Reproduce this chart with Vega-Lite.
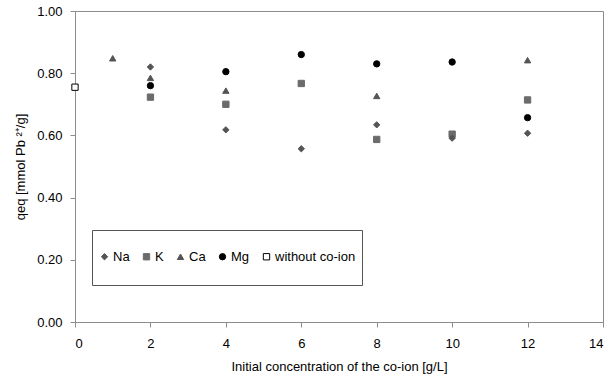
{
  "$schema": "https://vega.github.io/schema/vega-lite/v6.json",
  "width": 528,
  "height": 311,
  "autosize": "none",
  "padding": {"left": 75, "top": 11, "right": 6, "bottom": 61},
  "config": {
    "font": "Liberation Sans",
    "view": {"stroke": "#8c8c8c", "strokeWidth": 1},
    "axis": {
      "labelFont": "Liberation Sans",
      "titleFont": "Liberation Sans",
      "labelFontSize": 13,
      "titleFontSize": 13,
      "titleFontWeight": "normal",
      "labelColor": "#000",
      "titleColor": "#000",
      "domainColor": "#8c8c8c",
      "tickColor": "#8c8c8c",
      "grid": false,
      "tickSize": 5
    }
  },
  "data": {
    "values": [
      {"c": 0, "q": 0.755, "s": "without co-ion"},
      {"c": 1, "q": 0.848, "s": "Ca"},
      {"c": 2, "q": 0.820, "s": "Na"},
      {"c": 2, "q": 0.785, "s": "Ca"},
      {"c": 2, "q": 0.760, "s": "Mg"},
      {"c": 2, "q": 0.723, "s": "K"},
      {"c": 4, "q": 0.805, "s": "Mg"},
      {"c": 4, "q": 0.744, "s": "Ca"},
      {"c": 4, "q": 0.700, "s": "K"},
      {"c": 4, "q": 0.618, "s": "Na"},
      {"c": 6, "q": 0.860, "s": "Mg"},
      {"c": 6, "q": 0.767, "s": "K"},
      {"c": 6, "q": 0.557, "s": "Na"},
      {"c": 8, "q": 0.830, "s": "Mg"},
      {"c": 8, "q": 0.727, "s": "Ca"},
      {"c": 8, "q": 0.634, "s": "Na"},
      {"c": 8, "q": 0.587, "s": "K"},
      {"c": 10, "q": 0.836, "s": "Mg"},
      {"c": 10, "q": 0.604, "s": "K"},
      {"c": 10, "q": 0.591, "s": "Na"},
      {"c": 12, "q": 0.842, "s": "Ca"},
      {"c": 12, "q": 0.714, "s": "K"},
      {"c": 12, "q": 0.657, "s": "Mg"},
      {"c": 12, "q": 0.607, "s": "Na"}
    ]
  },
  "mark": {"type": "point", "filled": true, "size": 40, "strokeWidth": 1, "opacity": 1},
  "encoding": {
    "x": {
      "field": "c",
      "type": "quantitative",
      "scale": {"domain": [0, 14], "nice": false},
      "axis": {"values": [0, 2, 4, 6, 8, 10, 12, 14], "title": "Initial concentration of the co-ion [g/L]", "titlePadding": 10, "labelPadding": 10}
    },
    "y": {
      "field": "q",
      "type": "quantitative",
      "scale": {"domain": [0, 1], "nice": false},
      "axis": {"values": [0, 0.2, 0.4, 0.6, 0.8, 1.0], "format": ".2f", "title": "qeq [mmol Pb ²⁺/g]", "titlePadding": 9, "labelPadding": 8}
    },
    "shape": {
      "field": "s",
      "type": "nominal",
      "scale": {"domain": ["Na", "K", "Ca", "Mg", "without co-ion"], "range": ["diamond", "square", "triangle-up", "circle", "square"]},
      "legend": {"title": " ", "titleFontSize": 8, "titlePadding": 6, "orient": "none", "legendX": 17, "legendY": 219, "direction": "horizontal", "strokeColor": "#555", "fillColor": "#fff", "padding": 6, "columnPadding": 10, "labelFontSize": 13, "labelFont": "Liberation Sans", "labelColor": "#000", "labelExpr": "[datum.label, '']", "symbolSize": 40, "symbolStrokeWidth": 1, "labelOffset": 2}
    },
    "fill": {
      "field": "s",
      "type": "nominal",
      "scale": {"domain": ["Na", "K", "Ca", "Mg", "without co-ion"], "range": ["#545454", "#6b6b6b", "#545454", "#000000", "#ffffff"]},
      "legend": null
    },
    "stroke": {
      "field": "s",
      "type": "nominal",
      "scale": {"domain": ["Na", "K", "Ca", "Mg", "without co-ion"], "range": ["#545454", "#6b6b6b", "#545454", "#000000", "#000000"]},
      "legend": null
    }
  }
}
